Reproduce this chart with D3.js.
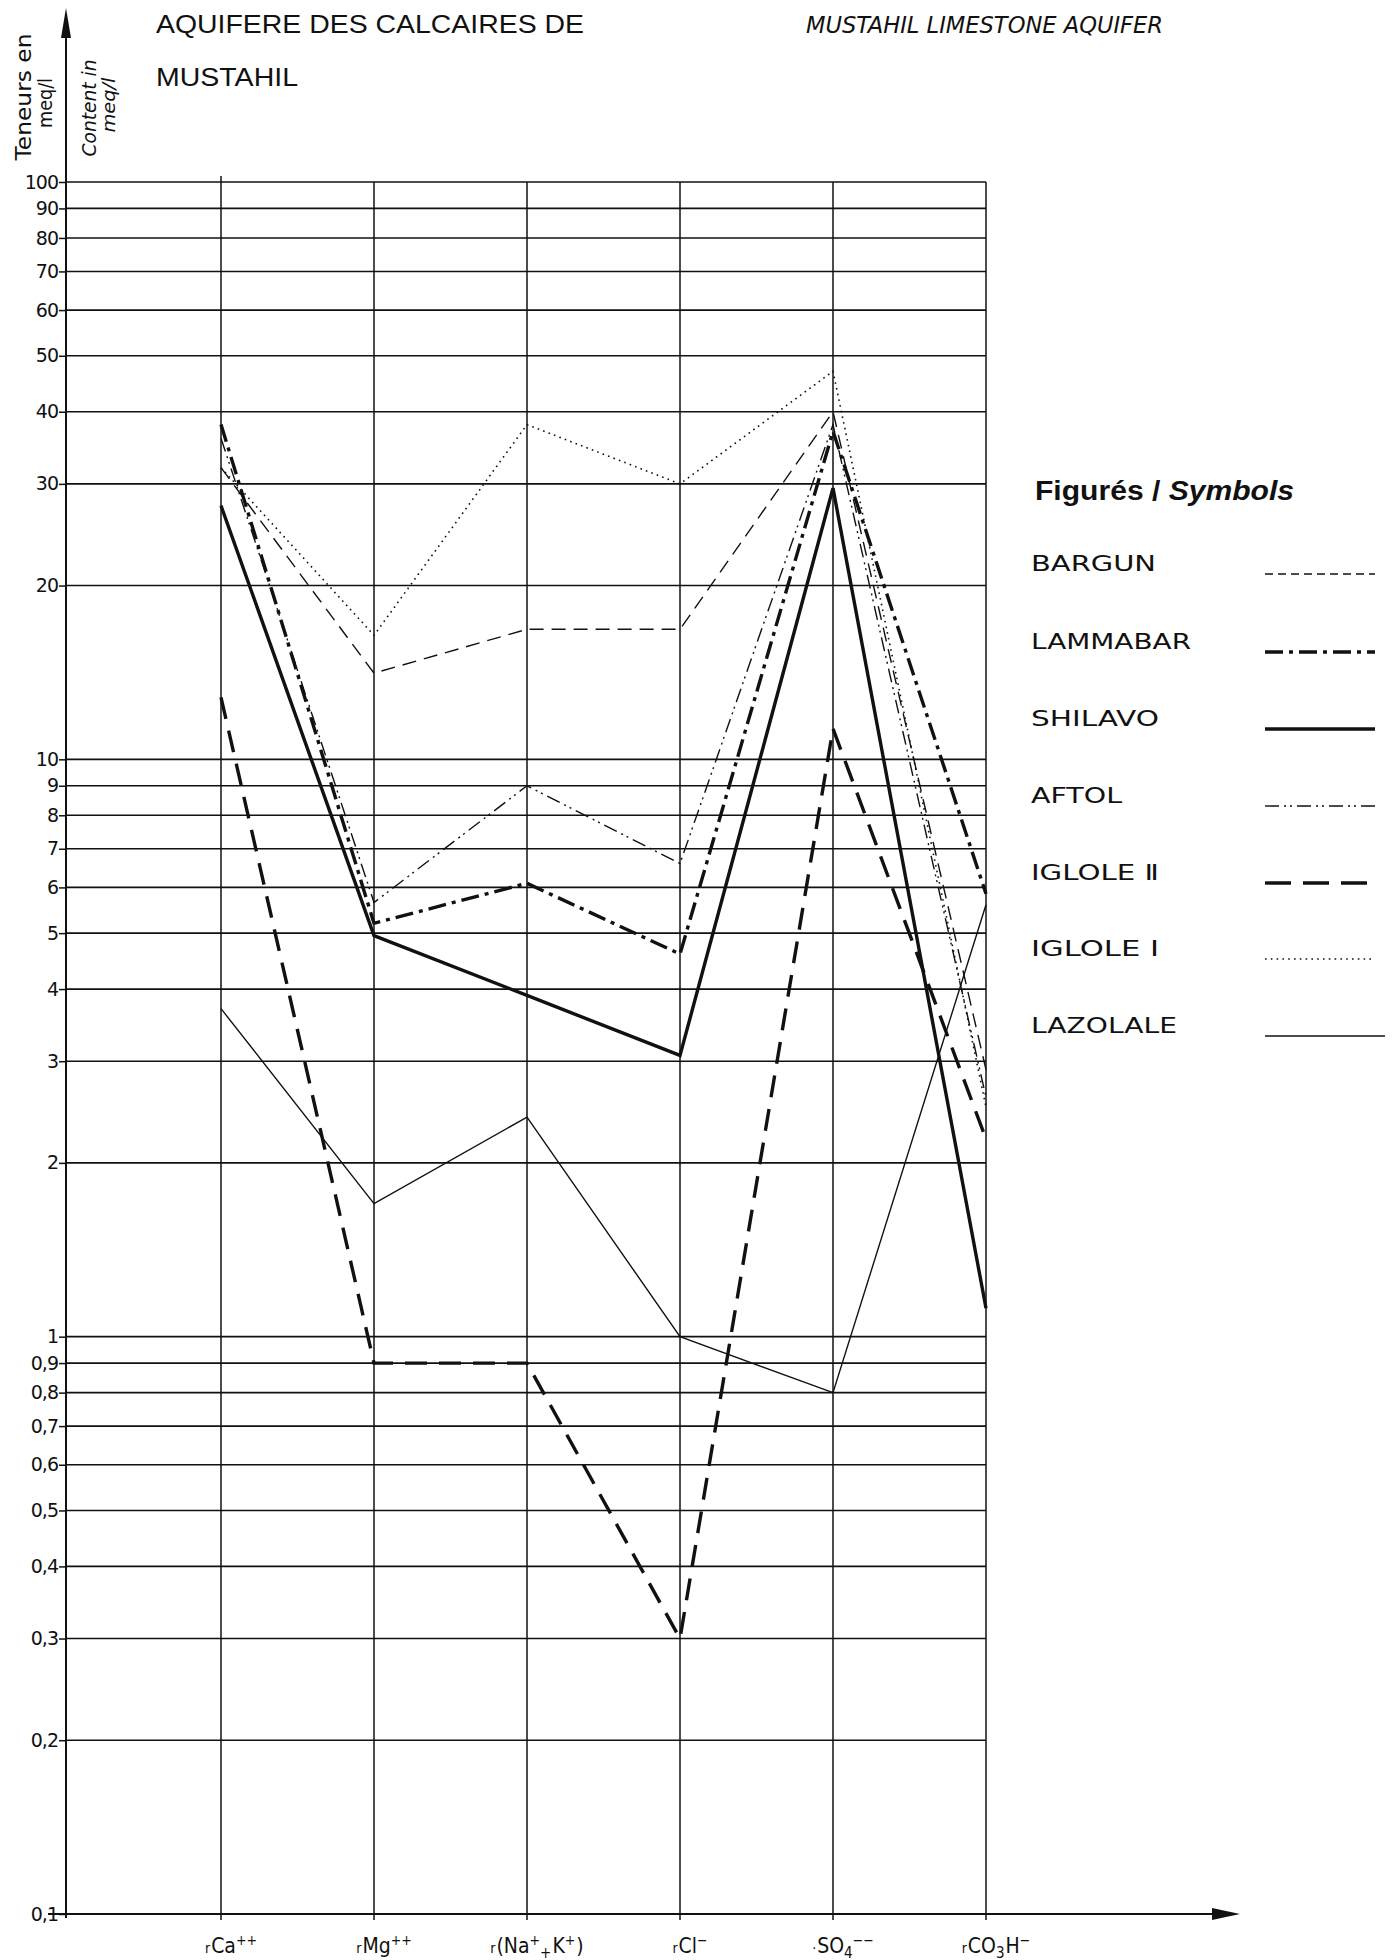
<!DOCTYPE html>
<html>
<head>
<meta charset="utf-8">
<script src="https://cdn.jsdelivr.net/npm/d3@7"></script>
<style>
  html, body { margin: 0; padding: 0; background: #fff; }
  svg { display: block; }
</style>
</head>
<body>
<script>
// ---------------- DATA ----------------
const categories = ["rCa++", "rMg++", "r(Na++K+)", "rCl-", "SO4--", "rCO3H-"];
// label pieces: [text, kind] kind: r = small prefix, n = normal, sup = superscript, sub = subscript
const categoryLabels = [
  [["r", "r"], ["Ca", "n"], ["++", "sup"]],
  [["r", "r"], ["Mg", "n"], ["++", "sup"]],
  [["r", "r"], ["(Na", "n"], ["+", "sup"], ["+", "sub"], ["K", "n"], ["+", "sup"], [")", "n"]],
  [["r", "r"], ["Cl", "n"], ["−", "sup"]],
  [["·", "r"], ["SO", "n"], ["4", "sub"], ["−−", "sup"]],
  [["r", "r"], ["CO", "n"], ["3", "sub"], ["H", "n"], ["−", "sup"]]
];

const seriesNames = ["BARGUN", "LAMMABAR", "SHILAVO", "AFTOL", "IGLOLE Ⅱ", "IGLOLE Ⅰ", "LAZOLALE"];
const bargun   = [32,   14.1, 16.8, 16.8, 40,   2.9];
const lammabar = [38,   5.2,  6.1,  4.6,  37,   5.85];
const shilavo  = [27.5, 4.95, 3.9,  3.07, 29.5, 1.12];
const aftol    = [36,   5.65, 9.0,  6.6,  38,   2.6];
const iglole2  = [12.8, 0.9,  0.9,  0.3,  11.3, 2.2];
const iglole1  = [32,   16.4, 38,   30,   47,   2.5];
const lazolale = [3.7,  1.7,  2.4,  1.0,  0.8,  5.6];
const seriesValues = [bargun, lammabar, shilavo, aftol, iglole2, iglole1, lazolale];

const yTickValues = [100, 90, 80, 70, 60, 50, 40, 30, 20, 10, 9, 8, 7, 6, 5, 4, 3, 2, 1,
                     0.9, 0.8, 0.7, 0.6, 0.5, 0.4, 0.3, 0.2, 0.1];

// ---------------- STYLES ----------------
const seriesStyles = [
  { w: 1.4, dash: "14,8",            legendDash: "8,5" },            // BARGUN
  { w: 3.4, dash: "18,6,4,6",        legendDash: "18,6,4,6" },       // LAMMABAR
  { w: 3.4, dash: null,              legendDash: null },             // SHILAVO
  { w: 1.4, dash: "14,5,2,4,2,5",    legendDash: "14,5,2,4,2,5" },   // AFTOL
  { w: 3.4, dash: "22,12",           legendDash: "26,12" },          // IGLOLE II
  { w: 1.6, dash: "1.6,4.2",         legendDash: "1.6,4.2" },        // IGLOLE I
  { w: 1.4, dash: null,              legendDash: null }              // LAZOLALE
];

const W = 1395, H = 1960;
const axisX = 66;
const svg = d3.select("body").append("svg").attr("width", W).attr("height", H);
svg.append("rect").attr("width", W).attr("height", H).attr("fill", "#fff");

const x = d3.scalePoint().domain(categories).range([221, 986]);
const y = d3.scaleLog().domain([0.1, 100]).range([1914, 182]);

const gridRight = x(categories[categories.length - 1]);

// horizontal grid lines
svg.append("g").selectAll("line").data(yTickValues).join("line")
  .attr("x1", axisX).attr("x2", gridRight)
  .attr("y1", d => y(d)).attr("y2", d => y(d))
  .attr("stroke", "#111").attr("stroke-width", 1.6);

// vertical category lines
svg.append("g").selectAll("line").data(categories).join("line")
  .attr("x1", d => x(d)).attr("x2", d => x(d))
  .attr("y1", (d, i) => y(100) - (i === 0 ? 6 : 0)).attr("y2", y(0.1) + 6)
  .attr("stroke", "#111").attr("stroke-width", 1.5);

// y axis ticks and labels
const fmt = d => (d < 1 ? String(d).replace(".", ",") : String(d));
const yAxis = svg.append("g").attr("transform", `translate(${axisX},0)`)
  .call(d3.axisLeft(y).tickValues(yTickValues).tickFormat(fmt).tickSize(7).tickPadding(1));
yAxis.select(".domain").remove();
yAxis.selectAll("line").attr("stroke", "#111").attr("stroke-width", 1.5);
yAxis.selectAll("text")
  .attr("fill", "#111")
  .style("font-family", "'DejaVu Sans', sans-serif")
  .style("font-size", "19px")
  .style("letter-spacing", "-1px");

// y axis line + arrow
svg.append("line").attr("x1", axisX).attr("x2", axisX).attr("y1", y(0.1) + 4).attr("y2", 30)
  .attr("stroke", "#111").attr("stroke-width", 2);
svg.append("path").attr("d", `M${axisX},8 L${axisX - 5},38 L${axisX + 5},38 Z`).attr("fill", "#111");

// x axis line + arrow
const xAxisY = y(0.1);
svg.append("line").attr("x1", 48).attr("x2", 1215).attr("y1", xAxisY).attr("y2", xAxisY)
  .attr("stroke", "#111").attr("stroke-width", 2.2);
svg.append("path").attr("d", `M1240,${xAxisY} L1212,${xAxisY - 6} L1212,${xAxisY + 6} Z`).attr("fill", "#111");

// category labels
const catG = svg.append("g")
  .style("font-family", "'DejaVu Sans Condensed', 'Liberation Sans Narrow', 'DejaVu Sans', sans-serif")
  .style("font-size", "21px").attr("fill", "#111");
categoryLabels.forEach((parts, i) => {
  const t = catG.append("text").attr("x", x(categories[i]) + 10).attr("y", 1953)
    .attr("text-anchor", "middle");
  parts.forEach(([s, k]) => {
    const ts = t.append("tspan").text(s);
    if (k === "r") ts.style("font-size", "14px");
    if (k === "sup") ts.style("font-size", "14px").attr("baseline-shift", "55%");
    if (k === "sub") ts.style("font-size", "15px").attr("baseline-shift", "-30%");
    if (k === "n") ts.attr("dx", 1);
  });
});

// series lines
const line = d3.line().x((d, i) => x(categories[i])).y(d => y(d));
const linesG = svg.append("g").attr("fill", "none");
seriesValues.forEach((vals, i) => {
  const st = seriesStyles[i];
  const p = linesG.append("path").datum(vals).attr("d", line)
    .attr("stroke", "#111").attr("stroke-width", st.w)
    .attr("stroke-linejoin", "miter");
  if (st.dash) p.attr("stroke-dasharray", st.dash);
});

// titles
svg.append("text").attr("x", 156).attr("y", 33)
  .attr("textLength", 428).attr("lengthAdjust", "spacingAndGlyphs")
  .style("font-family", "'Liberation Sans', 'DejaVu Sans', sans-serif").style("font-size", "25px")
  .attr("fill", "#111").text("AQUIFERE  DES CALCAIRES DE");
svg.append("text").attr("x", 156).attr("y", 86)
  .attr("textLength", 142).attr("lengthAdjust", "spacingAndGlyphs")
  .style("font-family", "'Liberation Sans', 'DejaVu Sans', sans-serif").style("font-size", "25px")
  .attr("fill", "#111").text("MUSTAHIL");
svg.append("text").attr("x", 806).attr("y", 33)
  .attr("textLength", 357).attr("lengthAdjust", "spacingAndGlyphs")
  .style("font-family", "'Liberation Sans Narrow', 'DejaVu Sans Condensed', sans-serif")
  .style("font-size", "23px").style("font-style", "italic")
  .attr("fill", "#111").text("MUSTAHIL  LIMESTONE  AQUIFER");

// y axis titles (rotated)
const rot = (tx, ty, txt, size, italic, len) => {
  svg.append("text").attr("transform", `translate(${tx},${ty}) rotate(-90)`)
    .attr("text-anchor", "middle")
    .attr("textLength", len).attr("lengthAdjust", "spacingAndGlyphs")
    .style("font-family", italic ? "'Liberation Sans Narrow', 'DejaVu Sans Condensed', sans-serif" : "'DejaVu Sans', sans-serif")
    .style("font-size", size + "px").style("font-style", italic ? "italic" : "normal")
    .attr("fill", "#111").text(txt);
};
rot(31, 97, "Teneurs en", 22, false, 127);
rot(52, 103, "meq/l", 19, false, 50);
rot(96, 108, "Content in", 19, true, 97);
rot(115, 105, "meq/l", 17, true, 55);

// legend
const legG = svg.append("g");
const legT = legG.append("text").attr("x", 1035).attr("y", 500)
  .attr("textLength", 259).attr("lengthAdjust", "spacingAndGlyphs")
  .style("font-family", "'Liberation Sans', 'DejaVu Sans', sans-serif").style("font-size", "27px")
  .style("font-weight", "bold").attr("fill", "#111");
legT.append("tspan").text("Figurés / ");
legT.append("tspan").style("font-style", "italic").text("Symbols");

const legBase = [571, 649, 726, 803, 880, 956, 1033];
const legWidths = [125, 160, 128, 91, 128, 128, 146];
seriesNames.forEach((name, i) => {
  legG.append("text").attr("x", 1031).attr("y", legBase[i])
    .attr("textLength", legWidths[i]).attr("lengthAdjust", "spacingAndGlyphs")
    .style("font-family", "'DejaVu Sans', sans-serif").style("font-size", "21px")
    .attr("fill", "#111").text(name);
  const st = seriesStyles[i];
  const l = legG.append("line").attr("x1", 1265).attr("x2", i === 6 ? 1385 : 1375)
    .attr("y1", legBase[i] + 3).attr("y2", legBase[i] + 3)
    .attr("stroke", "#111").attr("stroke-width", st.w);
  if (st.legendDash) l.attr("stroke-dasharray", st.legendDash);
});
</script>
</body>
</html>
